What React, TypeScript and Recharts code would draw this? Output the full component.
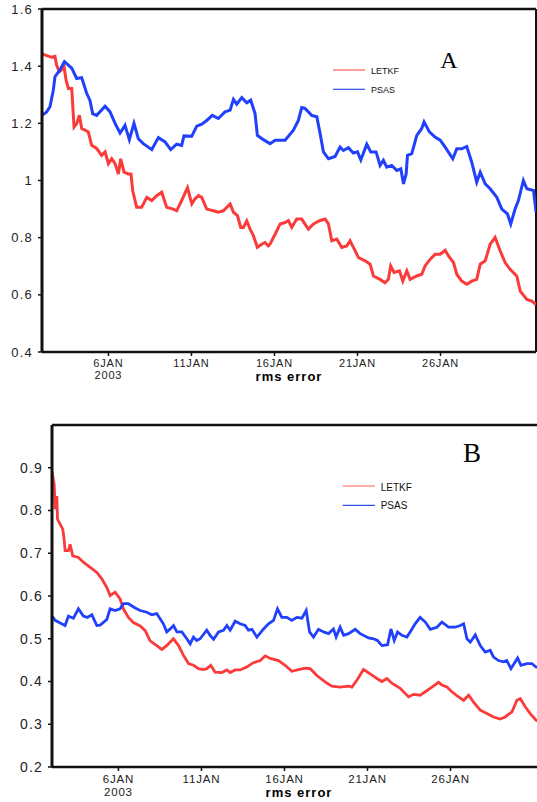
import React from "react";
import { LineChart, Line, XAxis, YAxis, ReferenceLine } from "recharts";

// time = day of January 2003 (Jan 2 00Z .. Jan 31 18Z)
const xTicks = [6, 11, 16, 21, 26];
const xDomain: [number, number] = [2, 31.75];

const yTicksA = [0.4, 0.6, 0.8, 1, 1.2, 1.4, 1.6];
const yTicksB = [0.2, 0.3, 0.4, 0.5, 0.6, 0.7, 0.8, 0.9];

const letkfA: [number, number][] = [
  [2.0, 1.443], [2.58, 1.431], [2.78, 1.434], [2.88, 1.404], [3.04, 1.381], [3.18, 1.387], [3.33, 1.398],
  [3.45, 1.351], [3.59, 1.322], [3.79, 1.322], [3.93, 1.187], [4.09, 1.199], [4.25, 1.228], [4.39, 1.182],
  [4.59, 1.176], [4.79, 1.17], [4.99, 1.123], [5.29, 1.112], [5.59, 1.088], [5.8, 1.1], [6.0, 1.059],
  [6.2, 1.076], [6.4, 1.059], [6.6, 1.023], [6.74, 1.076], [6.94, 1.029], [7.2, 1.023], [7.36, 1.023],
  [7.46, 0.965], [7.7, 0.906], [8.0, 0.906], [8.31, 0.941], [8.61, 0.93], [8.91, 0.947], [9.21, 0.959],
  [9.51, 0.906], [9.91, 0.9], [10.11, 0.894], [10.41, 0.93], [10.76, 0.975], [11.02, 0.918], [11.22, 0.936],
  [11.42, 0.947], [11.62, 0.941], [11.92, 0.9], [12.32, 0.894], [12.62, 0.889], [12.92, 0.894], [13.33, 0.918],
  [13.53, 0.889], [13.77, 0.877], [13.97, 0.836], [14.13, 0.836], [14.33, 0.859], [14.53, 0.83], [14.73, 0.807],
  [14.97, 0.766], [15.23, 0.777], [15.43, 0.783], [15.63, 0.771], [15.73, 0.777], [16.04, 0.812], [16.34, 0.848],
  [16.64, 0.853], [16.84, 0.86], [17.04, 0.836], [17.34, 0.865], [17.64, 0.865], [18.04, 0.83], [18.35, 0.848],
  [18.75, 0.86], [19.05, 0.865], [19.25, 0.848], [19.45, 0.789], [19.75, 0.795], [20.05, 0.766], [20.35, 0.771],
  [20.55, 0.789], [20.86, 0.754], [21.06, 0.73], [21.46, 0.719], [21.76, 0.707], [21.96, 0.666], [22.36, 0.654],
  [22.66, 0.642], [22.86, 0.654], [23.0, 0.701], [23.2, 0.678], [23.53, 0.684], [23.73, 0.648], [23.97, 0.684],
  [24.17, 0.654], [24.57, 0.666], [24.87, 0.672], [25.07, 0.701], [25.37, 0.724], [25.67, 0.742], [25.98, 0.742],
  [26.28, 0.756], [26.48, 0.736], [26.78, 0.713], [26.98, 0.672], [27.28, 0.648], [27.58, 0.637], [27.88, 0.648],
  [28.18, 0.654], [28.39, 0.707], [28.69, 0.719], [28.99, 0.777], [29.29, 0.801], [29.59, 0.754], [29.89, 0.713],
  [30.19, 0.689], [30.59, 0.666], [30.8, 0.613], [31.2, 0.584], [31.5, 0.578], [31.75, 0.566],
];

const psasA: [number, number][] = [
  [2.0, 1.228], [2.28, 1.24], [2.48, 1.258], [2.68, 1.316], [2.78, 1.363], [3.08, 1.387], [3.35, 1.416],
  [3.79, 1.393], [4.09, 1.357], [4.39, 1.36], [4.69, 1.305], [4.89, 1.28], [5.05, 1.234], [5.29, 1.228],
  [5.8, 1.26], [6.1, 1.24], [6.4, 1.2], [6.7, 1.166], [7.0, 1.193], [7.26, 1.143], [7.54, 1.2], [7.8, 1.146],
  [8.1, 1.129], [8.61, 1.108], [9.01, 1.15], [9.41, 1.135], [9.75, 1.108], [10.11, 1.127], [10.41, 1.123],
  [10.55, 1.156], [11.02, 1.155], [11.32, 1.19], [11.62, 1.197], [11.92, 1.21], [12.26, 1.228], [12.62, 1.217],
  [13.02, 1.24], [13.33, 1.246], [13.53, 1.284], [13.73, 1.267], [14.03, 1.29], [14.33, 1.272], [14.57, 1.281],
  [14.83, 1.234], [14.97, 1.158], [15.33, 1.143], [15.73, 1.129], [16.04, 1.141], [16.64, 1.141], [17.14, 1.176],
  [17.44, 1.21], [17.64, 1.255], [17.84, 1.252], [18.24, 1.228], [18.55, 1.223], [18.75, 1.164], [18.95, 1.1],
  [19.25, 1.076], [19.65, 1.084], [19.95, 1.117], [20.15, 1.105], [20.45, 1.115], [20.75, 1.096], [21.0, 1.1],
  [21.2, 1.072], [21.56, 1.127], [21.8, 1.1], [22.12, 1.1], [22.36, 1.053], [22.56, 1.071], [22.76, 1.047],
  [23.06, 1.053], [23.37, 1.035], [23.61, 1.041], [23.77, 0.988], [23.93, 1.023], [24.01, 1.088], [24.27, 1.094],
  [24.57, 1.158], [24.87, 1.182], [25.01, 1.205], [25.33, 1.17], [25.67, 1.152], [25.98, 1.141], [26.28, 1.117],
  [26.74, 1.076], [26.98, 1.111], [27.28, 1.111], [27.58, 1.119], [27.88, 1.064], [28.18, 0.994], [28.39, 1.029],
  [28.69, 0.988], [28.99, 0.971], [29.39, 0.941], [29.69, 0.9], [30.03, 0.883], [30.23, 0.848], [30.49, 0.9],
  [30.69, 0.93], [30.99, 1.0], [31.2, 0.971], [31.6, 0.965], [31.75, 0.89],
];

const letkfB: [number, number][] = [
  [2.0, 0.892], [2.13, 0.861], [2.19, 0.803], [2.29, 0.834], [2.33, 0.78], [2.49, 0.768], [2.65, 0.756],
  [2.73, 0.733], [2.79, 0.706], [2.99, 0.706], [3.09, 0.721], [3.25, 0.694], [3.59, 0.69], [3.89, 0.679],
  [4.3, 0.667], [4.7, 0.655], [5.0, 0.64], [5.3, 0.62], [5.5, 0.601], [5.8, 0.609], [6.1, 0.593], [6.3, 0.57],
  [6.6, 0.55], [6.9, 0.538], [7.31, 0.53], [7.61, 0.519], [7.91, 0.495], [8.31, 0.484], [8.61, 0.475],
  [8.91, 0.484], [9.31, 0.5], [9.62, 0.484], [9.92, 0.461], [10.22, 0.442], [10.52, 0.438], [10.82, 0.43],
  [11.12, 0.428], [11.32, 0.43], [11.56, 0.438], [11.82, 0.422], [12.23, 0.421], [12.53, 0.427], [12.73, 0.421],
  [13.03, 0.427], [13.33, 0.427], [13.73, 0.434], [14.13, 0.444], [14.54, 0.449], [14.84, 0.46], [15.14, 0.454],
  [15.64, 0.449], [16.04, 0.438], [16.44, 0.424], [16.85, 0.428], [17.25, 0.431], [17.55, 0.43], [17.95, 0.414],
  [18.45, 0.399], [18.85, 0.389], [19.35, 0.387], [19.86, 0.389], [20.06, 0.387], [20.36, 0.403], [20.76, 0.428],
  [21.16, 0.418], [21.57, 0.407], [21.87, 0.4], [22.17, 0.407], [22.47, 0.396], [22.97, 0.384], [23.47, 0.364],
  [23.77, 0.37], [24.17, 0.368], [24.48, 0.376], [24.88, 0.387], [25.28, 0.398], [25.48, 0.392], [25.78, 0.387],
  [26.08, 0.376], [26.38, 0.367], [26.79, 0.356], [27.09, 0.368], [27.39, 0.352], [27.79, 0.333], [28.19, 0.325],
  [28.59, 0.317], [28.99, 0.312], [29.29, 0.317], [29.7, 0.329], [30.0, 0.356], [30.2, 0.36], [30.5, 0.341],
  [30.8, 0.325], [31.14, 0.31], [31.75, 0.3],
];

const psasB: [number, number][] = [
  [2.0, 0.553], [2.19, 0.543], [2.49, 0.537], [2.79, 0.531], [2.99, 0.553], [3.29, 0.548], [3.59, 0.57],
  [3.89, 0.553], [4.13, 0.55], [4.4, 0.556], [4.7, 0.531], [4.9, 0.532], [5.3, 0.545], [5.5, 0.57], [5.8, 0.566],
  [6.1, 0.57], [6.3, 0.582], [6.6, 0.582], [7.01, 0.572], [7.31, 0.566], [7.71, 0.562], [8.01, 0.556],
  [8.31, 0.559], [8.51, 0.547], [8.71, 0.535], [8.91, 0.516], [9.12, 0.523], [9.32, 0.531], [9.52, 0.516],
  [9.82, 0.516], [10.12, 0.5], [10.32, 0.488], [10.52, 0.504], [10.72, 0.496], [10.92, 0.5], [11.32, 0.52],
  [11.52, 0.508], [11.73, 0.499], [12.03, 0.516], [12.33, 0.52], [12.53, 0.531], [12.73, 0.52], [13.03, 0.541],
  [13.33, 0.535], [13.63, 0.531], [13.83, 0.52], [14.04, 0.522], [14.34, 0.504], [14.74, 0.523], [15.04, 0.535],
  [15.34, 0.543], [15.58, 0.57], [15.84, 0.55], [16.14, 0.55], [16.44, 0.543], [16.74, 0.55], [17.05, 0.548],
  [17.31, 0.566], [17.51, 0.516], [17.75, 0.504], [18.05, 0.522], [18.35, 0.516], [18.65, 0.512], [18.95, 0.523],
  [19.11, 0.504], [19.35, 0.527], [19.56, 0.508], [19.86, 0.512], [20.26, 0.522], [20.56, 0.512], [21.06, 0.502],
  [21.36, 0.5], [21.6, 0.496], [21.87, 0.484], [22.21, 0.486], [22.41, 0.523], [22.61, 0.496], [22.81, 0.516],
  [23.07, 0.508], [23.37, 0.504], [23.57, 0.516], [23.87, 0.535], [24.17, 0.55], [24.48, 0.539], [24.78, 0.522],
  [25.18, 0.527], [25.48, 0.539], [25.88, 0.527], [26.28, 0.527], [26.59, 0.531], [26.79, 0.535], [26.99, 0.5],
  [27.19, 0.492], [27.49, 0.509], [27.79, 0.484], [28.09, 0.469], [28.39, 0.473], [28.59, 0.457], [28.89, 0.449],
  [29.19, 0.446], [29.39, 0.449], [29.64, 0.43], [29.9, 0.446], [30.04, 0.455], [30.24, 0.438], [30.6, 0.442],
  [30.9, 0.442], [31.14, 0.434], [31.75, 0.43],
];

const RED = "#fb3a3a";
const BLUE = "#2140fb";
const INK = "#111";
const SANS = "'Liberation Sans', Arial, sans-serif";
const SERIF = "'Liberation Serif', 'Times New Roman', serif";

const toRows = (pts: [number, number][]) => pts.map(([t, v]) => ({ t, v }));

const fmtY = (v: number) => (Math.abs(v - 1) < 1e-9 ? "1" : v.toFixed(1));

function makeXTick(fs: number, d1: number, d2: number) {
  return (props: any) => {
    const { x, y, payload } = props;
    return (
      <g>
        <text x={x} y={y + d1} textAnchor="middle" fontSize={fs} fontFamily={SANS} fill="#222" letterSpacing={0.8}>
          {`${payload.value}JAN`}
        </text>
        {payload.value === 6 ? (
          <text x={x} y={y + d2} textAnchor="middle" fontSize={fs} fontFamily={SANS} fill="#222" letterSpacing={0.8}>
            2003
          </text>
        ) : null}
      </g>
    );
  };
}

type PanelProps = {
  width: number;
  height: number;
  margin: { top: number; right: number; bottom: number; left: number };
  yWidth: number;
  xHeight: number;
  yDomain: [number, number];
  yTicks: number[];
  letkf: [number, number][];
  psas: [number, number][];
  lineW: number;
  yFont: number;
  xFont: number;
  d1: number;
  d2: number;
};

function Panel(p: PanelProps) {
  return (
    <LineChart width={p.width} height={p.height} margin={p.margin}>
      <XAxis
        type="number"
        dataKey="t"
        domain={xDomain}
        ticks={xTicks}
        allowDataOverflow
        height={p.xHeight}
        tickSize={4}
        tickMargin={2}
        tick={makeXTick(p.xFont, p.d1, p.d2)}
        axisLine={{ stroke: INK, strokeWidth: 2.5 }}
        tickLine={{ stroke: INK, strokeWidth: 1.5 }}
      />
      <YAxis
        type="number"
        domain={p.yDomain}
        ticks={p.yTicks}
        allowDataOverflow
        width={p.yWidth}
        tickSize={4}
        tickMargin={5}
        tickFormatter={fmtY}
        tick={{ fontSize: p.yFont, fill: "#222", fontFamily: SANS, letterSpacing: 1.2 }}
        axisLine={{ stroke: INK, strokeWidth: 3 }}
        tickLine={{ stroke: INK, strokeWidth: 1.5 }}
      />
      <ReferenceLine y={p.yDomain[1]} stroke={INK} strokeWidth={2.5} />
      <ReferenceLine x={xDomain[1]} stroke={INK} strokeWidth={2} />
      <Line
        data={toRows(p.letkf)}
        dataKey="v"
        name="LETKF"
        stroke={RED}
        strokeWidth={p.lineW}
        dot={false}
        activeDot={false}
        isAnimationActive={false}
        type="linear"
      />
      <Line
        data={toRows(p.psas)}
        dataKey="v"
        name="PSAS"
        stroke={BLUE}
        strokeWidth={p.lineW}
        dot={false}
        activeDot={false}
        isAnimationActive={false}
        type="linear"
      />
    </LineChart>
  );
}

export default function App() {
  return (
    <div
      style={{
        position: "absolute",
        left: 0,
        top: 0,
        width: 537,
        height: 802,
        overflow: "hidden",
        background: "#fff",
      }}
    >
      <div style={{ position: "absolute", left: 0, top: 0 }}>
        <Panel
          width={537}
          height={400}
          margin={{ top: 9, right: 1, bottom: 0, left: 0 }}
          yWidth={42}
          xHeight={48}
          yDomain={[0.4, 1.6]}
          yTicks={yTicksA}
          letkf={letkfA}
          psas={psasA}
          lineW={3}
          yFont={13}
          xFont={11}
          d1={9}
          d2={21}
        />
      </div>
      <div style={{ position: "absolute", left: 0, top: 400 }}>
        <Panel
          width={560}
          height={402}
          margin={{ top: 25, right: 14, bottom: 0, left: 0 }}
          yWidth={52}
          xHeight={35}
          yDomain={[0.2, 1.0]}
          yTicks={yTicksB}
          letkf={letkfB}
          psas={psasB}
          lineW={2.8}
          yFont={14}
          xFont={11.5}
          d1={10}
          d2={22.5}
        />
      </div>
      <svg
        width={537}
        height={802}
        style={{ position: "absolute", left: 0, top: 0, pointerEvents: "none" }}
      >
        {/* Panel A annotations */}
        <text x={449} y={68} textAnchor="middle" fontFamily={SERIF} fontSize={24} fill="#000">A</text>
        <line x1={333} x2={365} y1={70} y2={70} stroke="#ff5a5a" strokeWidth={1.2} />
        <text x={371} y={74} fontFamily={SANS} fontSize={9} fill="#111">LETKF</text>
        <line x1={333} x2={365} y1={89.3} y2={89.3} stroke="#3050e8" strokeWidth={1.2} />
        <text x={371} y={93} fontFamily={SANS} fontSize={9} fill="#111">PSAS</text>
        <text x={289} y={381} textAnchor="middle" fontFamily={SANS} fontWeight="bold" fontSize={13} letterSpacing={1} fill="#000">rms error</text>

        {/* Panel B annotations */}
        <text x={472} y={461.5} textAnchor="middle" fontFamily={SERIF} fontSize={27} fill="#000">B</text>
        <line x1={342.7} x2={375} y1={486} y2={486} stroke="#ff5a5a" strokeWidth={1.2} />
        <text x={380.7} y={490.7} fontFamily={SANS} fontSize={10} fill="#111">LETKF</text>
        <line x1={342.7} x2={375} y1={505.3} y2={505.3} stroke="#3050e8" strokeWidth={1.2} />
        <text x={380.7} y={509.3} fontFamily={SANS} fontSize={10} fill="#111">PSAS</text>
        <text x={299} y={797} textAnchor="middle" fontFamily={SANS} fontWeight="bold" fontSize={13} letterSpacing={1} fill="#000">rms error</text>
      </svg>
    </div>
  );
}
